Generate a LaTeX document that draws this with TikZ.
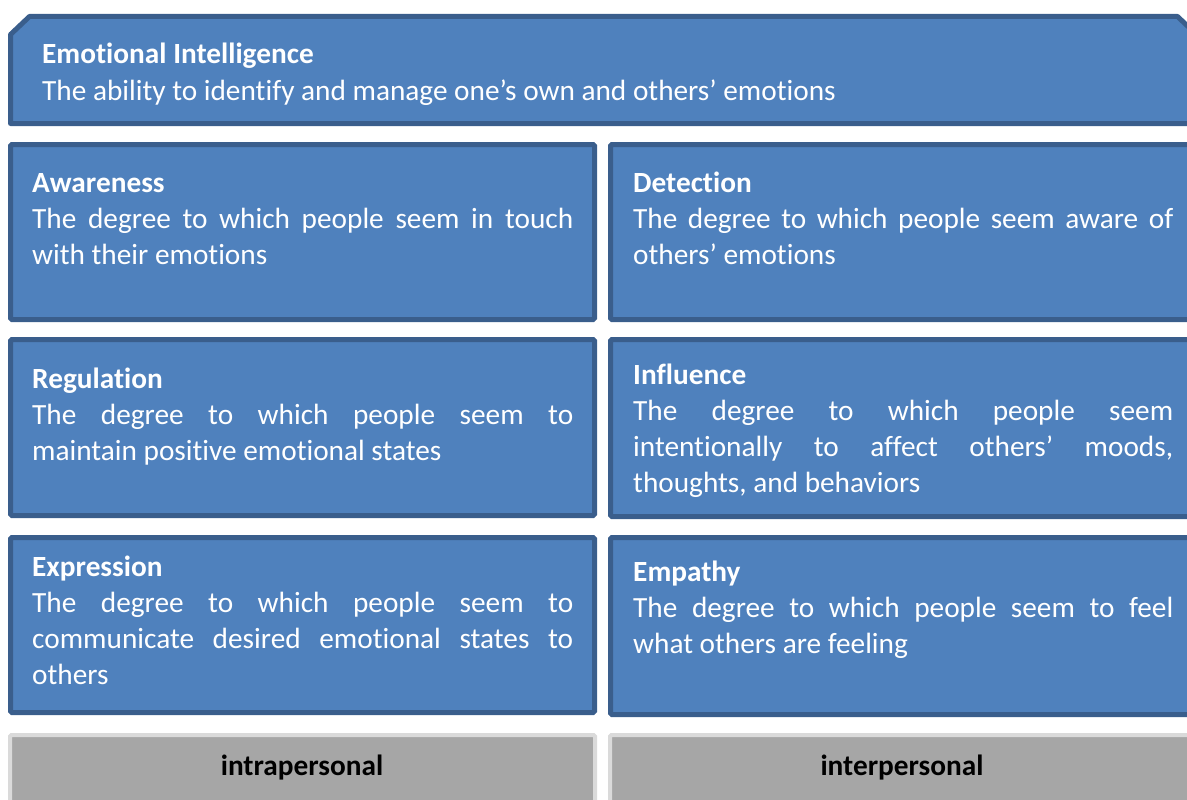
\documentclass[tikz,border=0pt]{standalone}
\usepackage{fontspec}
\setmainfont{Carlito}[Ligatures=NoCommon]
\definecolor{eiblue}{HTML}{4F81BD}
\definecolor{eiborder}{HTML}{3A5E8C}
\definecolor{eigray}{HTML}{A6A6A6}
\definecolor{eigrayb}{HTML}{DADADA}
\newcommand{\jl}[1]{\hbox to\hsize{#1}}
\newcommand{\eitext}[3]{\vtop{\hsize=#1\parindent=0pt\fontsize{29.3}{36}\selectfont\baselineskip=36pt\lineskiplimit=-100pt \textbf{#2}\par #3}}
\tikzset{
  bluebox/.style={draw=eiborder, fill=eiblue, line width=5pt, rounded corners=1.5pt, inner sep=0pt, outer sep=0pt},
  topline/.style={draw=eiborder, fill=eiblue, line width=5pt, line join=round},
  graybox/.style={draw=eigrayb, fill=eigray, line width=4pt, rounded corners=1.5pt, inner sep=0pt, outer sep=0pt},
  eitxt/.style={anchor=base west, inner sep=0pt, text=white},
  graytxt/.style={anchor=base, inner sep=0pt, text=black, font=\fontsize{29.3}{36}\selectfont\bfseries}
}
\begin{document}
\begin{tikzpicture}[x=1pt,y=-1pt]
\useasboundingbox (0,0) rectangle (1187,800);
\clip (0,0) rectangle (1187,800);
% top box with snipped corners (outer: 8..1199 x 14..126)
\coordinate (tA) at (10.5,34.5);
\coordinate (tB) at (29.5,16.5);
\coordinate (tC) at (1177.5,16.5);
\coordinate (tD) at (1196.5,34.5);
\coordinate (tE) at (1196.5,123.5);
\coordinate (tF) at (10.5,123.5);
\path[topline] (tA) -- (tB) -- (tC) -- (tD) -- (tE) -- (tF) -- cycle;
% boxes (outer extents)
\node[bluebox, minimum width=584pt, minimum height=175pt] (aw) at (302.5,232) {};
\node[bluebox, minimum width=586pt, minimum height=175pt] (de) at (903.5,232) {};
\node[bluebox, minimum width=584pt, minimum height=176pt] (re) at (302.5,427.5) {};
\node[bluebox, minimum width=586pt, minimum height=177pt] (in) at (903.5,428) {};
\node[bluebox, minimum width=584pt, minimum height=175pt] (ex) at (302.5,625) {};
\node[bluebox, minimum width=586pt, minimum height=177pt] (em) at (903.5,626) {};
\node[graybox, minimum width=585pt, minimum height=80pt] (gl) at (302.5,775) {};
\node[graybox, minimum width=587pt, minimum height=80pt] (gr) at (903.5,775) {};
% texts
\node[eitxt] (topt) at (42,64) {\eitext{1100pt}{Emotional Intelligence}{\hbox{The ability to identify and manage one’s own and others’ emotions}}};
\node[eitxt] (awt) at (32,192) {\eitext{541pt}{Awareness}{\jl{The degree to which people seem in touch}\hbox{with their emotions}}};
\node[eitxt] (det) at (633,192) {\eitext{540pt}{Detection}{\jl{The degree to which people seem aware of}\hbox{others’ emotions}}};
\node[eitxt] (ret) at (32,388) {\eitext{541pt}{Regulation}{\jl{The degree to which people seem to}\hbox{maintain positive emotional states}}};
\node[eitxt] (int) at (633,384) {\eitext{540pt}{Influence}{\jl{The degree to which people seem}\jl{intentionally to affect others’ moods,}\hbox{thoughts, and behaviors}}};
\node[eitxt] (ext) at (32,576) {\eitext{541pt}{Expression}{\jl{The degree to which people seem to}\jl{communicate desired emotional states to}\hbox{others}}};
\node[eitxt] (emt) at (633,581) {\eitext{540pt}{Empathy}{\jl{The degree to which people seem to feel}\hbox{what others are feeling}}};
\node[graytxt] (glt) at (302,775) {intrapersonal};
\node[graytxt] (grt) at (902,775) {interpersonal};
\end{tikzpicture}
\end{document}
